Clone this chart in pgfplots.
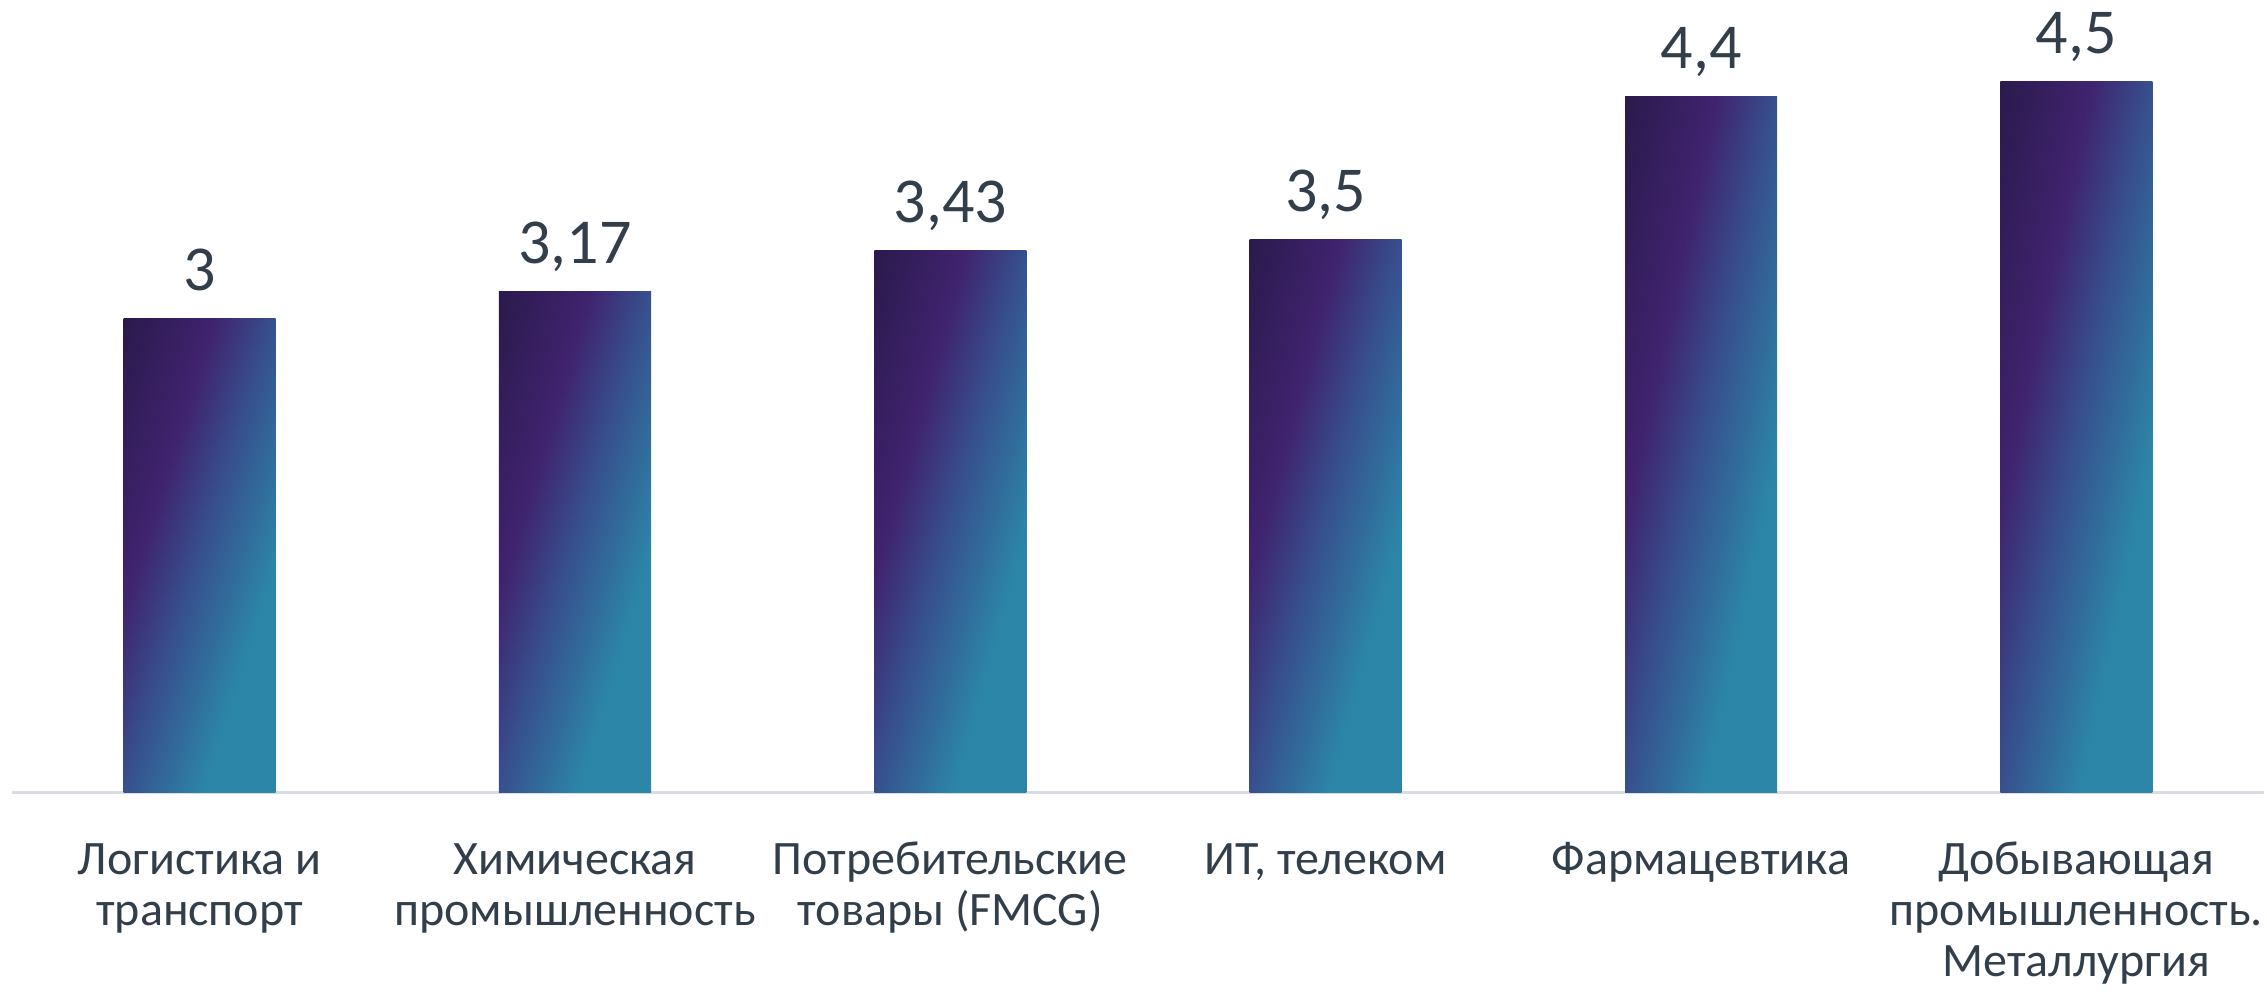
\documentclass[border=0pt]{standalone}
\usepackage{pgfplots}
\pgfplotsset{compat=1.18}
\usepackage{fontspec}
\setmainfont{Carlito}
\definecolor{txt}{HTML}{323E4A}
\definecolor{linegray}{HTML}{D9DDE3}
% t = (u+v)/2 with u from left, v from top of the bar (bar box = central 50bp square)
\pgfdeclarefunctionalshading{bargrad}{\pgfpointorigin}{\pgfpoint{100bp}{100bp}}{}{
  sub 50 add 100 div
  dup 0 lt {pop 0} if dup 1 gt {pop 1} if
  dup 0.3 le
  { 0.3 div dup 0.086 mul 0.165 add exch dup 0.035 mul 0.102 add exch 0.137 mul 0.298 add }
  { dup 0.5 le
    { 0.3 sub 0.2 div dup -0.035 mul 0.251 add exch dup 0.177 mul 0.137 add exch 0.122 mul 0.435 add }
    { dup 0.76 le
      { 0.5 sub 0.26 div dup -0.043 mul 0.216 add exch dup 0.211 mul 0.314 add exch 0.102 mul 0.557 add }
      { pop 0.173 0.525 0.659 }
      ifelse }
    ifelse }
  ifelse
}
\pgfplotsset{
  mybar/.style={ybar, bar width=38pt, bar shift=0pt, draw=none, shading=bargrad,
    nodes near coords, every node near coord/.append style={font=\fontsize{16}{19}\selectfont, text=txt, anchor=base, yshift=7pt, inner sep=0pt}}
}
\begin{document}
\begin{tikzpicture}
\begin{axis}[
  scale only axis, width=563pt, height=197.5pt,
  xmin=-0.5, xmax=5.5, ymin=0, ymax=5,
  clip=false,
  hide y axis,
  axis x line=bottom,
  x axis line style={draw=linegray, line width=0.75pt, -},
  major tick length=0pt,
  xtick={0,1,2,3,4,5},
  xticklabels={{\strut Логистика и\\транспорт},{\strut Химическая\\промышленность},{\strut Потребительские\\товары (FMCG)},{\strut ИТ, телеком},{\strut Фармацевтика},{\strut Добывающая\\промышленность.\\Металлургия}},
  xticklabel style={font=\fontsize{12}{12.65}\selectfont, align=center, text=txt, inner sep=0pt, anchor=north, yshift=-11.65pt},
  /pgf/number format/use comma,
  /pgf/number format/assume math mode=true,
]
\addplot[mybar] coordinates {(0,3)};
\addplot[mybar] coordinates {(1,3.17)};
\addplot[mybar] coordinates {(2,3.43)};
\addplot[mybar] coordinates {(3,3.5)};
\addplot[mybar] coordinates {(4,4.4)};
\addplot[mybar] coordinates {(5,4.5)};
\end{axis}
\pgfresetboundingbox
\path[use as bounding box] (-3pt,-51.25pt) rectangle (563.75pt,198pt);
\end{tikzpicture}
\end{document}
